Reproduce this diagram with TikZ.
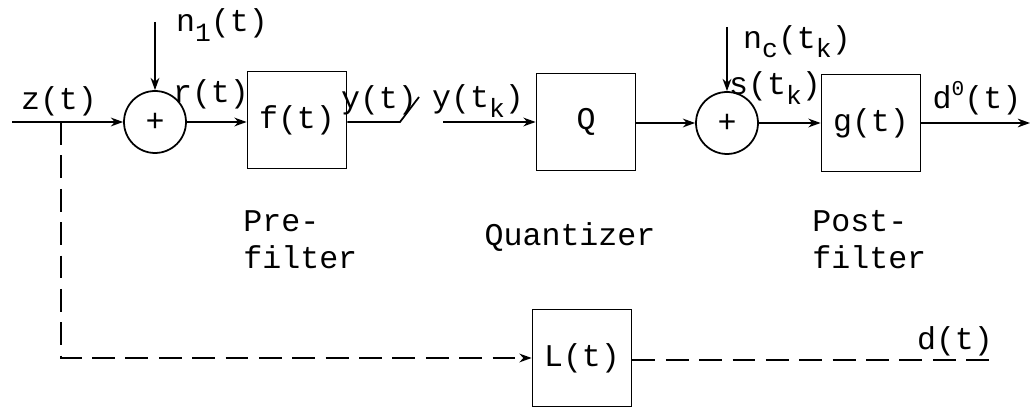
\documentclass[tikz,border=0pt]{standalone}
\usepackage{fontspec}
\setmainfont{Liberation Mono}
\usetikzlibrary{arrows.meta,positioning}
\newcommand{\lo}[1]{\raisebox{-0.55ex}{\fontsize{15}{15}\selectfont #1}}
\newcommand{\hi}[1]{\raisebox{0.75ex}{\fontsize{12}{12}\selectfont #1}}
\tikzset{
  every picture/.append style={font=\fontsize{18}{21}\selectfont, >=Stealth},
  blk/.style={rectangle, draw, line width=1pt, minimum width=1.98cm, minimum height=1.94cm},
  sumc/.style={circle, draw, line width=1pt, minimum size=1.24cm, inner sep=0pt},
  flow/.style={-{Stealth[length=7pt,width=5pt]}, line width=1pt},
  wire/.style={line width=1pt},
  dsh/.style={dash pattern=on 13pt off 6pt},
  lbl/.style={inner sep=0pt},
}
\begin{document}
\begin{tikzpicture}[x=0.02cm,y=-0.02cm]
\useasboundingbox (0,0) rectangle (1036,411);

% ---------------- blocks ---------------------------------------------------------
\node[sumc] (s1) at (155,122) {+};
\node[blk] (f) at (297,120) {f(t)};
\node[blk] (q) at (586,122) {Q};
\node[sumc] (s2) at (727,123) {+};
\node[blk] (g) at (871,123) {g(t)};
\node[blk] (l) at (582,358) {L(t)};

% ---------------- free ends ------------------------------------------------------
\coordinate (zin) at (12,122);
\coordinate (zbr) at (61,122);
\coordinate (n1) at (155,22);
\coordinate (swa) at (400,122);
\coordinate (swb) at (419,97);
\coordinate (swc) at (443,122);
\coordinate (nc) at (727,27);
\coordinate (out) at (1030,123);
\coordinate (dend) at (992,360);

% ---------------- forward path ---------------------------------------------------
\draw[flow] (zin) -- (s1.west);
\draw[flow] (n1) -- (s1.north);
\draw[flow] (s1.east) -- (f.west |- s1.east);
\draw[wire] (f.east |- swa) -- (swa) -- (swb);
\draw[flow] (swc) -- (q.west |- swc);
\draw[flow] (q.east |- s2.west) -- (s2.west);
\draw[flow] (nc) -- (s2.north);
\draw[flow] (s2.east) -- (g.west |- s2.east);
\draw[flow] (g.east) -- (out);

% ---------------- ideal path -----------------------------------------------------
\draw[flow, dsh] (zbr) |- (l.west);
\draw[wire, dsh] (l.east |- dend) -- (dend);

% ---------------- labels ---------------------------------------------------------
\node[lbl] (zl) at (59,101) {z(t)};
\node[lbl] (n1l) at (222,25) {n\lo{1}(t)};
\node[lbl] (rl) at (211,94) {r(t)};
\node[lbl] (yl) at (379,100) {y(t)};
\node[lbl] (ykl) at (478,101) {y(t\lo{k})};
\node[lbl] (ncl) at (797,42) {n\lo{c}(t\lo{k})};
\node[lbl] (sl) at (775,88) {s(t\lo{k})};
\node[lbl] (dol) at (977,98) {d\hi{0}(t)};
\node[lbl] (dl) at (955,341) {d(t)};
\node[lbl, align=left, anchor=north west] (pre) at (243,210) {Pre-\\filter};
\node[lbl] (qt) at (570,237) {Quantizer};
\node[lbl, align=left, anchor=north west] (post) at (812,210) {Post-\\filter};

\end{tikzpicture}
\end{document}
